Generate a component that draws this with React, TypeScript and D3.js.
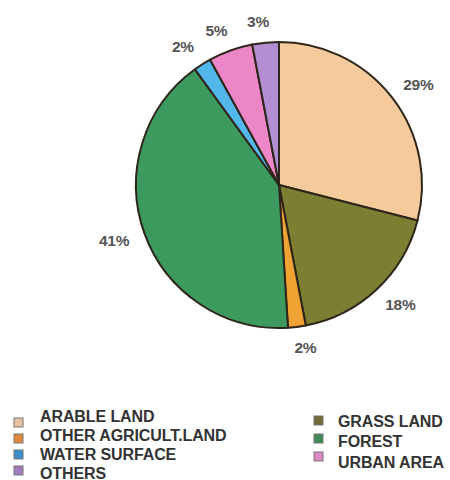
import React from "react";
import * as d3 from "d3";

const categories = [
  "ARABLE LAND",
  "GRASS LAND",
  "OTHER AGRICULT.LAND",
  "FOREST",
  "WATER SURFACE",
  "URBAN AREA",
  "OTHERS",
];
const values = [29, 18, 2, 41, 2, 5, 3];
const sliceColors = ["#F5CB9C", "#7C7F32", "#F0A232", "#3C9A5E", "#52B8EA", "#EC86C6", "#B48ED2"];
const legendColors = ["#E6C0A0", "#6E6C34", "#E0883A", "#3E8A56", "#3B90D0", "#E08AC4", "#A27CC0"];
const legendLeft = ["ARABLE LAND", "OTHER AGRICULT.LAND", "WATER SURFACE", "OTHERS"];
const legendRight = ["GRASS LAND", "FOREST", "URBAN AREA"];

const W = 450;
const H = 480;
const cx = 279;
const cy = 185;
const R = 143;
const labelRx = 170;
const labelRy = 164;

export default function App() {
  const data = categories.map((c, i) => ({ name: c, value: values[i], color: sliceColors[i] }));
  const pie = d3
    .pie<any>()
    .value((d: any) => d.value)
    .sort(null)
    .startAngle(0)
    .endAngle(2 * Math.PI);
  const arcs = pie(data);
  const arc = d3.arc<any>().innerRadius(0).outerRadius(R);
  const unitArc = d3.arc<any>().innerRadius(1).outerRadius(1);

  const colorOf = (name: string) => legendColors[categories.indexOf(name)];

  return (
    <svg
      width={W}
      height={H}
      style={{ position: "absolute", left: 0, top: 0, background: "#fff" }}
      fontFamily="'Liberation Sans', Arial, sans-serif"
    >
      <g transform={`translate(${cx},${cy})`}>
        {arcs.map((a, i) => (
          <path key={i} d={arc(a) as string} fill={a.data.color} stroke="#2e261a" strokeWidth={2} strokeLinejoin="round" />
        ))}
        {arcs.map((a, i) => {
          const [ux, uy] = unitArc.centroid(a);
          const x = ux * labelRx + Math.sign(ux) * 5;
          const y = uy * labelRy;
          return (
            <text
              key={"l" + i}
              x={x}
              y={y}
              textAnchor="middle"
              dominantBaseline="central"
              fontSize={15.5}
              fontWeight="bold"
              fill="#555"
              letterSpacing={-0.3}
            >
              {a.data.value + "%"}
            </text>
          );
        })}
      </g>
      <g>
        {legendLeft.map((name, i) => (
          <g key={name}>
            <rect x={14} y={418 + i * 16} width={9} height={9} fill={colorOf(name)} stroke="#777" strokeWidth={1} />
            <text x={40} y={416 + i * 19} dominantBaseline="central" fontSize={16} fontWeight="bold" fill="#333" letterSpacing={-0.1}>
              {name}
            </text>
          </g>
        ))}
        {legendRight.map((name, i) => (
          <g key={name}>
            <rect x={314} y={416 + i * 18} width={9} height={9} fill={colorOf(name)} stroke="#777" strokeWidth={1} />
            <text x={338} y={421 + i * 20.5} dominantBaseline="central" fontSize={16} fontWeight="bold" fill="#333" letterSpacing={-0.1}>
              {name}
            </text>
          </g>
        ))}
      </g>
    </svg>
  );
}
